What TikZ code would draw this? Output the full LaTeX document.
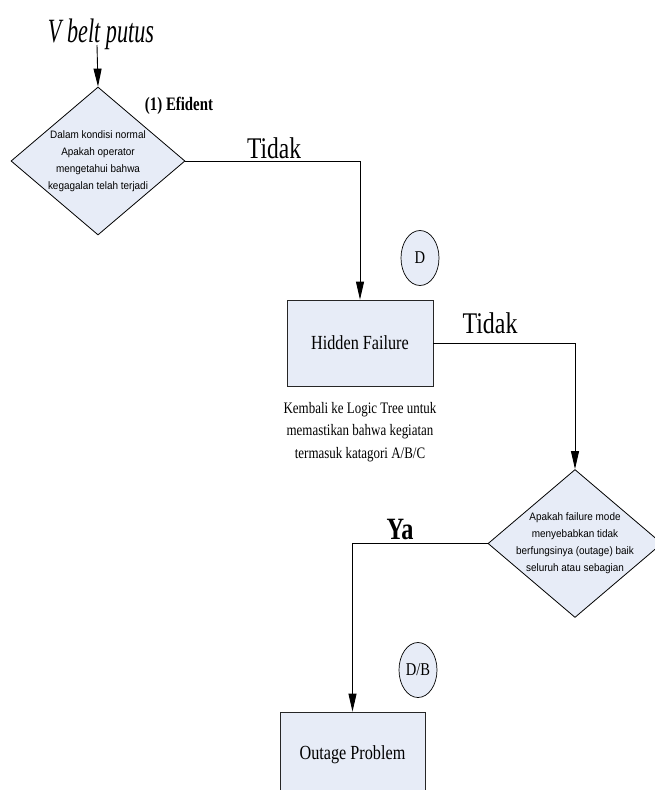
\documentclass[tikz,border=0pt]{standalone}
\usepackage{fontspec}
\usepackage{graphicx}
\setmainfont{Liberation Serif}
\newfontfamily\condserif[FakeStretch=0.81]{Liberation Serif}
\newfontfamily\condsans[FakeStretch=0.92]{Liberation Sans}
\usetikzlibrary{shapes.geometric,arrows.meta}
\definecolor{boxfill}{RGB}{231,236,247}

% fixed-width single-line label: width, font size, text
\newcommand{\fitlabel}[3]{\resizebox{#1}{\height}{\fontsize{#2}{#2}\selectfont #3}}

\tikzset{
  flow/.style={line width=0.9pt, draw=black},
  flowarrow/.style={flow, -{Triangle[length=18pt,width=8pt]}},
  decision/.style={diamond, draw=black, line width=0.8pt, fill=boxfill,
    minimum width=174pt, minimum height=148pt, inner sep=0pt},
  dtext/.style={align=center, inner sep=0pt,
    font=\condsans\fontsize{10.8}{17}\selectfont},
  process/.style={rectangle, draw=black!85, line width=0.8pt, fill=boxfill,
    minimum width=146pt, minimum height=86pt, inner sep=0pt},
  ptext/.style={inner sep=0pt, font=\condserif\fontsize{20}{20}\selectfont},
  tag/.style={ellipse, draw=black, line width=0.7pt, fill=boxfill,
    minimum width=38pt, minimum height=55pt, inner sep=0pt,
    font=\condserif\fontsize{18}{18}\selectfont},
  lbl/.style={inner sep=0pt, anchor=base},
}

\begin{document}
\begin{tikzpicture}[x=1pt, y=-1pt]
  \useasboundingbox (0,0) rectangle (654,790);

  % title
  \node[lbl] (title) at (101,42) {\fitlabel{106pt}{34}{\itshape V belt putus}};
  \coordinate (start) at (97,45);

  % first decision
  \node[decision] (d1) at (98,161) {};
  \node[dtext] (d1t) at (d1.center) {Dalam kondisi normal\\Apakah operator\\mengetahui bahwa\\kegagalan telah terjadi};
  \node[lbl] (efident) at (179,110) {\fitlabel{68pt}{19}{\bfseries (1) Efident}};

  % hidden failure
  \node[process] (hf) at (360,343) {};
  \node[ptext] (hft) at (hf.center) {Hidden Failure};
  \node[tag] (tagd) at (420,258) {D};
  \node[align=center, inner sep=0pt, anchor=base,
        font=\condserif\fontsize{16}{22.5}\selectfont] (note) at (360,458)
        {Kembali ke Logic Tree untuk\\memastikan bahwa kegiatan\\termasuk katagori A/B/C};

  % second decision
  \node[decision] (d2) at (575,543.5) {};
  \node[dtext] (d2t) at (d2.center) {Apakah failure mode\\menyebabkan tidak\\berfungsinya (outage) baik\\seluruh atau sebagian};

  % outage problem
  \node[process, minimum width=145pt] (op) at (352.5,755) {};
  \node[ptext] (opt) at (op.center) {Outage Problem};
  \node[tag] (tagdb) at (418,670) {D/B};

  % connectors
  \draw[flowarrow] (start) -- (d1.north);
  \draw[flowarrow] (d1.east) -| (hf.north);
  \draw[flowarrow] (hf.east) -| (d2.north);
  \draw[flowarrow] (d2.west) -| (op.north);

  % branch labels
  \node[lbl] (tidak1) at (274,158) {\fitlabel{54pt}{30}{Tidak}};
  \node[lbl] (tidak2) at (490,333) {\fitlabel{55pt}{30}{Tidak}};
  \node[lbl] (ya) at (400,539) {\fitlabel{27pt}{31}{\bfseries Ya}};
\end{tikzpicture}
\end{document}
